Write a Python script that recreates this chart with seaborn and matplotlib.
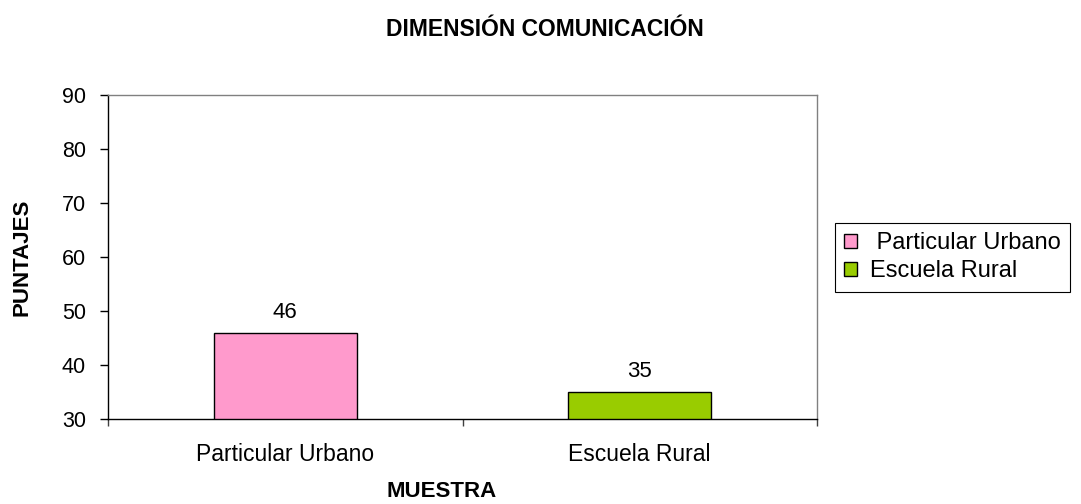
import matplotlib
matplotlib.use("Agg")
import matplotlib.pyplot as plt
from matplotlib.patches import Patch
import seaborn as sns

# datos del gráfico
categorias = ["Particular Urbano", "Escuela Rural"]
puntajes = [46, 35]
colores = ["#FF9ACC", "#99CC00"]
etiquetas_leyenda = [" Particular Urbano", "Escuela Rural"]

sns.set_style("white")
plt.rcParams["font.family"] = ["Liberation Sans", "DejaVu Sans"]
plt.rcParams["text.color"] = "black"
plt.rcParams["axes.labelcolor"] = "black"
plt.rcParams["xtick.color"] = "black"
plt.rcParams["ytick.color"] = "black"

fig = plt.figure(figsize=(10.81, 5.04), dpi=100)
ax = fig.add_axes([108 / 1081, 85 / 504, 709 / 1081, 324 / 504])

sns.barplot(x=categorias, y=puntajes, hue=categorias, palette=colores,
            saturation=1, width=0.403, edgecolor="black", linewidth=1,
            legend=False, ax=ax)

for cont in ax.containers:
    ax.bar_label(cont, fontsize=16, padding=7)

ax.set_ylim(30, 90)
ax.set_xlim(-0.5, 1.5)
ax.set_yticks(range(30, 91, 10))

# ejes
for lado in ["left", "bottom"]:
    ax.spines[lado].set_color("black")
    ax.spines[lado].set_linewidth(1)
for lado in ["top", "right"]:
    ax.spines[lado].set_color("#808080")
    ax.spines[lado].set_linewidth(1)

ax.tick_params(axis="y", which="major", direction="out", length=6, width=1,
               color="black", labelsize=15.5, pad=10, left=True)
ax.tick_params(axis="x", which="major", length=0, labelsize=16.5, pad=17)
ax.set_xticks([-0.5, 0.5, 1.5], minor=True)
ax.tick_params(axis="x", which="minor", direction="out", length=5, width=1,
               color="#404040", bottom=True)

ax.set_xlabel("MUESTRA", fontsize=16, fontweight="bold")
ax.xaxis.set_label_coords(0.47, -0.19)
ax.set_ylabel("PUNTAJES", fontsize=16, fontweight="bold")
ax.yaxis.set_label_coords(-0.107, 0.5)

fig.text(545 / 1081, 1 - 29 / 504, "DIMENSIÓN COMUNICACIÓN",
         fontsize=16.5, fontweight="bold", ha="center", va="center")

# leyenda (cortada por el borde derecho, como en el original)
handles = [Patch(facecolor=c, edgecolor="black", linewidth=1) for c in colores]
leg = fig.legend(handles, etiquetas_leyenda, loc="upper left",
                 bbox_to_anchor=(835 / 1081, 1 - 223 / 504),
                 bbox_transform=fig.transFigure, fontsize=17,
                 handlelength=0.52, handleheight=0.52, handletextpad=0.55,
                 labelspacing=0.25, borderpad=0.4, borderaxespad=0,
                 frameon=True, fancybox=False, framealpha=1)
leg.get_frame().set_edgecolor("black")
leg.get_frame().set_linewidth(0.8)

fig.savefig("out.png", dpi=100)
